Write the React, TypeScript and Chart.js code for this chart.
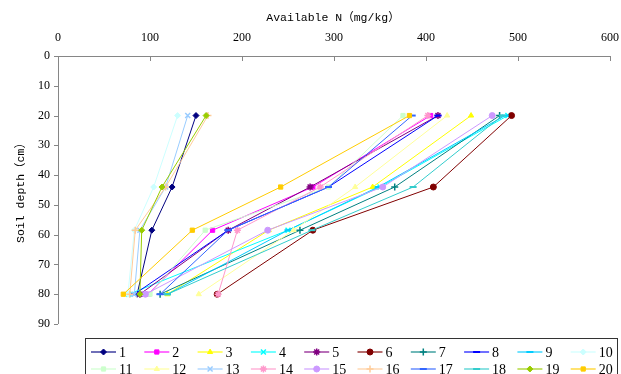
import React, { useEffect, useRef } from 'react';
import { Chart, registerables } from 'chart.js';
import { drawPoint } from 'chart.js/helpers';

Chart.register(...registerables);

// ---- data ----
const depths = [20, 44, 58.5, 80];
const seriesNames = ['1','2','3','4','5','6','7','8','9','10','11','12','13','14','15','16','17','18','19','20'];
const s1 = [150, 124, 102, 86];
const s2 = [405, 277, 168, 98];
const s3 = [449, 342, 229, 119];
const s4 = [489, 350, 250, 77];
const s5 = [413, 274, 185, 89];
const s6 = [493, 408, 277, 173];
const s7 = [480, 366, 263, 111];
const s8 = [413, 294, 185, 83];
const s9 = [486, 348, 250, 119];
const s10 = [130, 104, 83, 76];
const s11 = [375, 294, 160, 100];
const s12 = [423, 323, 256, 153];
const s13 = [141, 117, 89, 83];
const s14 = [402, 285, 195, 174];
const s15 = [472, 353, 228, 95];
const s16 = [163, 117, 84, 78];
const s17 = [385, 294, 185, 111];
const s18 = [483, 386, 276, 119];
const s19 = [161, 113, 91, 89];
const s20 = [382, 242, 146, 71];
const allSeries = [s1, s2, s3, s4, s5, s6, s7, s8, s9, s10, s11, s12, s13, s14, s15, s16, s17, s18, s19, s20];
const xTicks = [0, 100, 200, 300, 400, 500, 600];
const yTicks = [0, 10, 20, 30, 40, 50, 60, 70, 80, 90];
const xTitle = 'Available N\uFF08mg/kg\uFF09';
const yTitle = 'Soil depth\uFF08cm\uFF09';

// ---- styles ----
const colors = ['#000080','#FF00FF','#FFFF00','#00FFFF','#800080','#800000','#008080','#0000FF','#00CCFF','#CCFFFF','#CCFFCC','#FFFF99','#99CCFF','#FF99CC','#CC99FF','#FFCC99','#3366FF','#33CCCC','#99CC00','#FFCC00'];
const markers = ['rectRot','rect','triangle','crossRot','star','circle','cross','line','line','rectRot','rect','triangle','crossRot','star','circle','cross','line','line','rectRot','rect'];
const axisColor = '#868686';
const serif = '"Liberation Serif", "DejaVu Serif", serif';
const mono = '"Liberation Mono", "Noto Sans CJK SC", monospace';

function markerRadius(m: string) {
  if (m === 'line') return 3.5;
  if (m === 'crossRot' || m === 'cross' || m === 'star') return 3.5;
  return 3;
}
function markerBorder(m: string) {
  if (m === 'line') return 2;
  if (m === 'crossRot' || m === 'cross' || m === 'star') return 1.5;
  return 1;
}

const decor = {
  id: 'decor',
  afterDraw(chart: any) {
    const ctx = chart.ctx as CanvasRenderingContext2D;
    const xs = chart.scales.x;
    const ys = chart.scales.y;
    const ca = chart.chartArea;
    ctx.save();
    ctx.strokeStyle = axisColor;
    ctx.lineWidth = 1;
    ctx.beginPath();
    ctx.moveTo(ca.left + 0.5, Math.round(ca.top) + 0.5);
    ctx.lineTo(ca.right + 0.5, Math.round(ca.top) + 0.5);
    ctx.moveTo(Math.round(ca.left) + 0.5, ca.top);
    ctx.lineTo(Math.round(ca.left) + 0.5, ca.bottom);
    ctx.stroke();
    ctx.beginPath();
    for (const v of xTicks) {
      const px = Math.round(xs.getPixelForValue(v)) + 0.5;
      ctx.moveTo(px, ca.top);
      ctx.lineTo(px, ca.top + 5);
    }
    for (const v of yTicks) {
      const py = Math.round(ys.getPixelForValue(v)) + 0.5;
      ctx.moveTo(ca.left - 4, py);
      ctx.lineTo(ca.left, py);
    }
    ctx.stroke();

    // x tick labels
    ctx.fillStyle = '#000';
    ctx.font = '12px ' + serif;
    ctx.textAlign = 'center';
    ctx.textBaseline = 'middle';
    for (const v of xTicks) {
      ctx.fillText(String(v), xs.getPixelForValue(v), 38);
    }

    ctx.font = '11.5px ' + mono;
    ctx.fillText(xTitle, 333, 18);
    ctx.save();
    ctx.translate(21, 190);
    ctx.rotate(-Math.PI / 2);
    ctx.fillText(yTitle, 0, 0);
    ctx.restore();

    const bx = 85.5, by = 338.5, bw = 532, bh = 45;
    ctx.strokeStyle = '#333';
    ctx.lineWidth = 1;
    ctx.strokeRect(bx, by, bw, bh);
    const colW = 53.3;
    ctx.font = '14px ' + serif;
    ctx.textAlign = 'left';
    for (let i = 0; i < seriesNames.length; i++) {
      const row = Math.floor(i / 10);
      const col = i % 10;
      const x0 = 91 + col * colW;
      const y0 = 352 + row * 17;
      ctx.strokeStyle = colors[i];
      ctx.globalAlpha = 0.75;
      ctx.lineWidth = 1.5;
      ctx.beginPath();
      ctx.moveTo(x0, y0);
      ctx.lineTo(x0 + 25, y0);
      ctx.stroke();
      ctx.globalAlpha = 1;
      ctx.fillStyle = colors[i];
      ctx.strokeStyle = colors[i];
      ctx.lineWidth = markerBorder(markers[i]);
      drawPoint(ctx, { pointStyle: markers[i] as any, rotation: 0, radius: markerRadius(markers[i]), borderWidth: markerBorder(markers[i]) }, x0 + 12.5, y0);
      ctx.fillStyle = '#000';
      ctx.fillText(seriesNames[i], x0 + 28, y0 + 1);
    }
    ctx.restore();
  },
};

export default function App() {
  const ref = useRef<HTMLCanvasElement>(null);
  useEffect(() => {
    const datasets = allSeries.map((vals, i) => ({
      label: seriesNames[i],
      data: vals.map((v, k) => ({ x: v, y: depths[k] })),
      showLine: true,
      borderColor: colors[i],
      backgroundColor: colors[i],
      borderWidth: 1,
      pointStyle: markers[i] as any,
      pointRadius: markerRadius(markers[i]),
      pointBorderWidth: markerBorder(markers[i]),
      pointBackgroundColor: colors[i],
      pointBorderColor: colors[i],
      tension: 0,
      order: 20 - i,
    }));
    const chart = new Chart(ref.current as HTMLCanvasElement, {
      type: 'scatter',
      data: { datasets },
      plugins: [decor],
      options: {
        animation: false,
        responsive: false,
        devicePixelRatio: 1,
        layout: { padding: { left: 0, top: 0, right: 11, bottom: 50 } },
        plugins: { legend: { display: false }, tooltip: { enabled: false } },
        scales: {
          x: {
            type: 'linear',
            position: 'top',
            min: 0,
            max: 600,
            afterBuildTicks: (s: any) => { s.ticks = xTicks.map((v) => ({ value: v })); },
            ticks: { display: false },
            grid: { display: false, drawTicks: false },
            border: { display: false },
            afterFit: (s: any) => { s.height = 56; },
          },
          y: {
            type: 'linear',
            reverse: true,
            min: 0,
            max: 90,
            afterBuildTicks: (s: any) => { s.ticks = yTicks.map((v) => ({ value: v })); },
            ticks: { color: '#000', font: { family: serif, size: 12 }, padding: 8 },
            grid: { display: false, drawTicks: false },
            border: { display: false },
            afterFit: (s: any) => { s.width = 58; },
          },
        },
      } as any,
    });
    return () => chart.destroy();
  }, []);
  return (
    <div style={{ position: 'absolute', left: 0, top: 0, width: 621, height: 374, background: '#fff' }}>
      <canvas ref={ref} width={621} height={374} style={{ display: 'block', width: 621, height: 374 }} />
    </div>
  );
}
